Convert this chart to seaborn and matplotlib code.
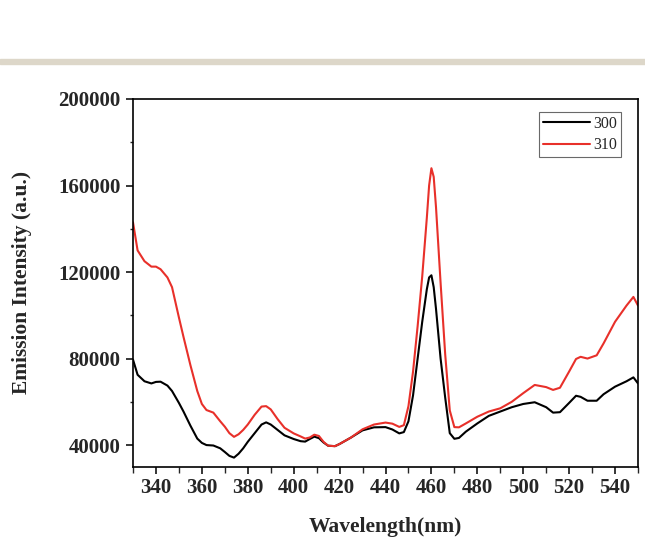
import numpy as np
import pandas as pd
import matplotlib
matplotlib.use("Agg")
import matplotlib.pyplot as plt
from matplotlib.ticker import MultipleLocator
import seaborn as sns

wavelength = [330, 332, 335, 338, 340, 342, 345, 347, 350, 352, 355, 358, 360, 362, 365,
              368, 370, 372, 374, 376, 378, 380, 383, 386, 388, 390, 393, 396, 400, 403,
              405, 407, 409, 411, 413, 415, 418, 420, 425, 430, 435, 440, 443, 446, 448,
              450, 452, 454, 456, 458, 459, 460, 461, 462, 464, 466, 468, 470, 472, 475,
              480, 485, 490, 495, 500, 505, 510, 513, 516, 520, 523, 525, 528, 532, 535,
              540, 545, 548, 550]

intensity_300 = [79500, 72500, 69500, 68500, 69200, 69300, 67500, 65000, 59500, 55500, 49000,
                 43000, 41000, 40000, 39800, 38500, 36800, 35000, 34200, 36000, 38500, 41500,
                 45500, 49500, 50500, 49500, 47000, 44500, 42800, 41800, 41600, 42800, 43900,
                 43200, 41200, 39700, 39500, 40500, 43500, 46800, 48200, 48300, 47200, 45400,
                 46000, 51000, 63000, 80000, 97000, 112000, 117500, 118500, 113000, 103000,
                 80000, 62000, 45500, 42900, 43300, 46200, 50000, 53500, 55500, 57500, 59000,
                 59800, 57500, 55000, 55200, 59500, 62800, 62300, 60500, 60500, 63500, 67000,
                 69500, 71300, 68500]

intensity_310 = [143000, 130000, 125000, 122500, 122500, 121300, 117500, 113000, 99000, 90000,
                 77000, 65000, 59000, 56200, 55000, 51000, 48500, 45500, 43800, 45000, 47000,
                 49500, 54000, 57800, 58000, 56500, 52000, 48000, 45400, 44000, 43000, 43500,
                 44800, 44200, 41500, 39700, 39500, 40500, 43500, 47300, 49500, 50400, 49900,
                 48400, 49200, 58000, 74000, 95000, 118000, 145000, 160000, 168000, 164000,
                 150000, 115000, 82000, 56000, 48300, 48200, 50000, 53100, 55500, 57000, 60000,
                 64000, 67800, 66800, 65500, 66500, 74000, 79800, 80800, 80000, 81500, 87000,
                 97000, 104500, 108500, 104500]

series_labels = ["300", "310"]
series_colors = ["#000000", "#e8302a"]

x_ticks = [340, 360, 380, 400, 420, 440, 460, 480, 500, 520, 540]
y_ticks = [40000, 80000, 120000, 160000, 200000]

df = pd.DataFrame({
    "Wavelength": wavelength * 2,
    "Intensity": intensity_300 + intensity_310,
    "Series": [series_labels[0]] * len(wavelength) + [series_labels[1]] * len(wavelength),
})

sns.set_style("ticks")
plt.rcParams["font.family"] = ["Liberation Serif", "DejaVu Serif"]

fig = plt.figure(figsize=(6.45, 5.37), dpi=100)
ax = fig.add_axes([133 / 645, 1 - 466.7 / 537, (638 - 133) / 645, (466.7 - 99) / 537])

sns.lineplot(data=df, x="Wavelength", y="Intensity", hue="Series",
             hue_order=series_labels, palette=dict(zip(series_labels, series_colors)),
             linewidth=1.5, ax=ax, legend=False)

ax.set_xlim(330, 550)
ax.set_ylim(30000, 200000)
ax.set_xticks(x_ticks)
ax.set_xticklabels([str(t) for t in x_ticks])
ax.set_yticks(y_ticks)
ax.set_yticklabels([str(t) for t in y_ticks])
ax.xaxis.set_minor_locator(MultipleLocator(10))
ax.yaxis.set_minor_locator(MultipleLocator(20000))

for s in ["top", "right", "bottom", "left"]:
    ax.spines[s].set_visible(True)
    ax.spines[s].set_color("black")
    ax.spines[s].set_linewidth(1.2)

ax.tick_params(axis="both", which="major", direction="out", length=5, width=1.1,
               color="black", labelsize=15, top=False, right=False)
ax.tick_params(axis="x", which="major", pad=3)
ax.tick_params(axis="y", which="major", pad=4)
ax.tick_params(axis="x", which="minor", direction="out", length=4, width=1.0, top=False)
ax.tick_params(axis="y", which="minor", direction="out", length=2.5, width=1.0, right=False)
for lbl in ax.get_xticklabels() + ax.get_yticklabels():
    lbl.set_fontweight("bold")

ax.set_xlabel("Wavelength(nm)", fontsize=15.5, fontweight="bold")
ax.set_ylabel("Emission Intensity (a.u.)", fontsize=15.5, fontweight="bold")
ax.xaxis.set_label_coords(0.5, (466.7 - 527) / 367.7)
ax.xaxis.label.set_va("center")
ax.yaxis.set_label_coords((22.5 - 133) / 505, 0.5)
ax.yaxis.label.set_va("center")

handles = [plt.Line2D([], [], color=c, linewidth=1.5) for c in series_colors]
leg = ax.legend(handles, series_labels, loc="upper right",
                bbox_to_anchor=((620.7 - 133) / 505, (466.7 - 111.7) / 367.7),
                borderaxespad=0, fontsize=11.5, handlelength=2.9, handletextpad=0.2,
                borderpad=0.25, labelspacing=0.35, fancybox=False, frameon=True)
leg.get_frame().set_edgecolor("#444444")
leg.get_frame().set_linewidth(0.8)

fig.add_artist(plt.Rectangle((0, 1 - 64 / 537), 1, 5 / 537, transform=fig.transFigure,
                             color="#ddd7c9", zorder=0))

fig.savefig("out.png", dpi=100)
